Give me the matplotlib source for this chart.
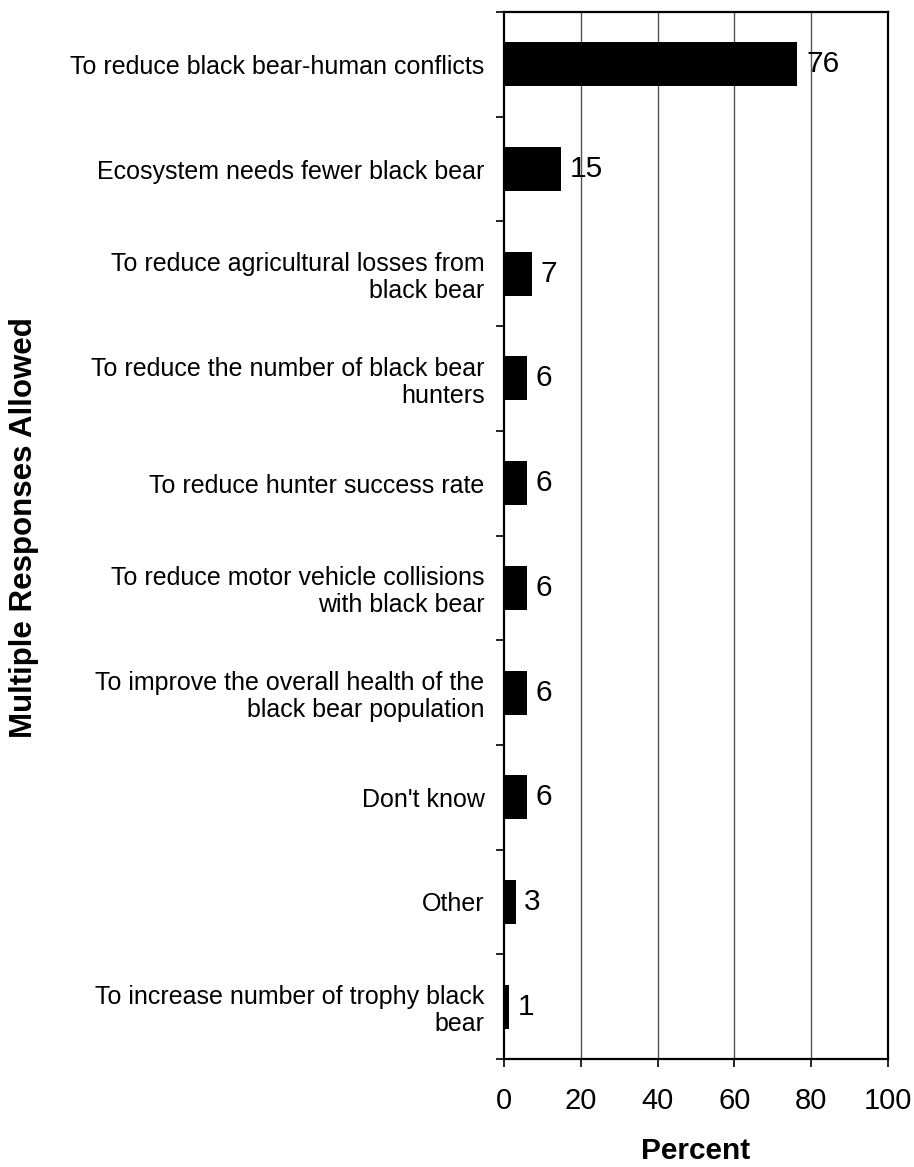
import matplotlib
matplotlib.use("Agg")
import matplotlib.pyplot as plt
import numpy as np

plt.rcParams['font.family'] = ['Liberation Sans', 'DejaVu Sans']

categories = [
    "To reduce black bear-human conflicts",
    "Ecosystem needs fewer black bear",
    "To reduce agricultural losses from\nblack bear",
    "To reduce the number of black bear\nhunters",
    "To reduce hunter success rate",
    "To reduce motor vehicle collisions\nwith black bear",
    "To improve the overall health of the\nblack bear population",
    "Don't know",
    "Other",
    "To increase number of trophy black\nbear",
]
values = [76.4, 14.8, 7.3, 6.0, 6.0, 6.0, 6.0, 6.0, 3.0, 1.4]
value_labels = ["76", "15", "7", "6", "6", "6", "6", "6", "3", "1"]
x_ticks = [0, 20, 40, 60, 80, 100]

fig = plt.figure(figsize=(9.14, 11.67), dpi=100)
ax = fig.add_axes([504/914, 1-1059/1167, 384/914, 1047/1167])

n = len(categories)
y = np.arange(n)
ax.barh(y, values, height=0.42, color='black', zorder=3)
ax.set_ylim(n - 0.5, -0.5)
ax.set_xlim(0, 100)

for yi, v, lab in zip(y, values, value_labels):
    ax.text(v + 2.3, yi, lab, va='center', ha='left', fontsize=21.5, zorder=4)

ax.set_xticks(x_ticks)
ax.set_xticklabels([str(t) for t in x_ticks], fontsize=21)
ax.tick_params(axis='x', length=6, width=1.2, pad=14, direction='out')

ax.set_yticks(y)
ax.set_yticklabels(categories, fontsize=18, ha='right', linespacing=1.15)
ax.tick_params(axis='y', which='major', length=0, pad=14)
ax.set_yticks(np.arange(n + 1) - 0.5, minor=True)
ax.tick_params(axis='y', which='minor', length=6, width=1.2, direction='out')

for g in [20, 40, 60, 80]:
    ax.axvline(g, color='#555555', linewidth=1.0, zorder=1)

for s in ax.spines.values():
    s.set_linewidth(1.6)

ax.set_xlabel("Percent", fontsize=21.5, fontweight='bold', labelpad=16)
fig.text(24/914, 1-528/1167, "Multiple Responses Allowed", rotation=90,
         fontsize=22.5, fontweight='bold', ha='center', va='center')

fig.savefig("out.png", dpi=100)
